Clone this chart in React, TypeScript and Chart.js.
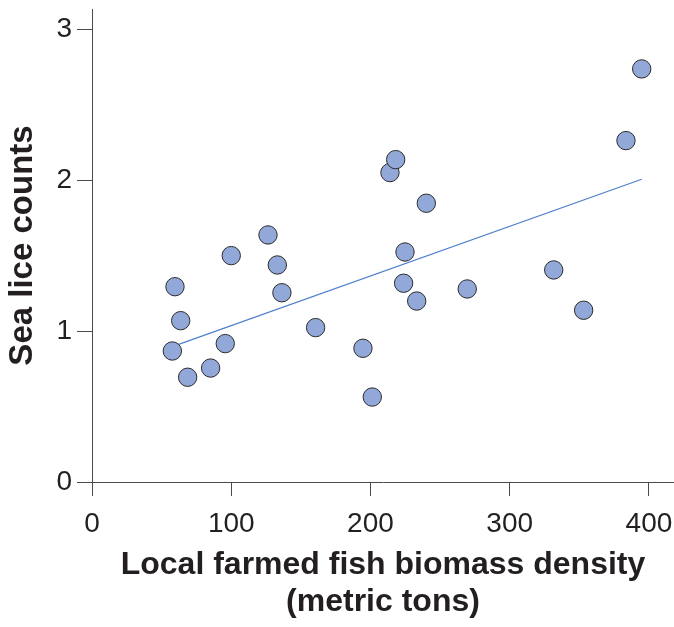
import React, { useEffect, useRef } from "react";
import { Chart, registerables } from "chart.js";
Chart.register(...registerables);

// Local farmed fish biomass density (metric tons)
const biomass = [57.7, 59.6, 63.7, 68.7, 85.2, 95.7, 100.0, 126.4, 133.1, 136.4, 160.6, 194.6, 201.3, 214.0, 218.1, 223.8, 224.8, 233.2, 240.1, 269.5, 331.6, 353.1, 383.5, 394.8];
// Sea lice counts
const liceCounts = [0.868, 1.294, 1.069, 0.694, 0.755, 0.917, 1.5, 1.637, 1.438, 1.254, 1.023, 0.886, 0.563, 2.05, 2.136, 1.317, 1.524, 1.199, 1.847, 1.279, 1.405, 1.138, 2.262, 2.737];
// Trend line end points
const trendX = [57.7, 394.8];
const trendY = [0.897, 2.006];

const xTicks = [0, 100, 200, 300, 400];
const yTicks = [0, 1, 2, 3];
const xTitle = ["Local farmed fish biomass density", "(metric tons)"];
const yTitle = "Sea lice counts";

const FONT = "'Liberation Sans', Arial, Helvetica, sans-serif";
const TEXT = "#231f20";
const AXIS = "#4a4a4a";

export default function App() {
  const ref = useRef<HTMLCanvasElement | null>(null);
  useEffect(() => {
    const canvas = ref.current;
    if (!canvas) return;
    const chart = new Chart(canvas, {
      type: "scatter",
      data: {
        datasets: [
          {
            label: "points",
            data: biomass.map((x, i) => ({ x, y: liceCounts[i] })),
            pointRadius: 9.2,
            pointHoverRadius: 9.2,
            backgroundColor: "#91a8d8",
            borderColor: "#2b2b2b",
            borderWidth: 1,
          },
          {
            label: "trend",
            type: "line",
            data: trendX.map((x, i) => ({ x, y: trendY[i] })),
            showLine: true,
            borderColor: "#4f7fcc",
            borderWidth: 1.2,
            pointRadius: 0,
            fill: false,
          } as any,
        ],
      },
      options: {
        responsive: false,
        animation: false,
        devicePixelRatio: 1,
        layout: { autoPadding: false, padding: { top: 9, right: 0, bottom: 0, left: 0 } },
        plugins: { legend: { display: false }, tooltip: { enabled: false } },
        scales: {
          x: {
            type: "linear",
            min: 0,
            max: 418,
            afterBuildTicks: (s: any) => {
              s.ticks = xTicks.map((v) => ({ value: v }));
            },
            afterFit: (s: any) => {
              s.height = 145;
              s.paddingLeft = 0;
              s.paddingRight = 0;
            },
            grid: {
              drawOnChartArea: false,
              drawTicks: true,
              tickLength: 14,
              tickColor: AXIS,
              lineWidth: 1,
            },
            border: { display: true, color: AXIS, width: 1 },
            ticks: {
              padding: 11.5,
              maxRotation: 0,
              autoSkip: false,
              color: TEXT,
              font: { family: FONT, size: 28 },
            },
            title: {
              display: true,
              text: xTitle,
              color: TEXT,
              font: { family: FONT, size: 32, weight: "bold", lineHeight: 37 / 32 },
              padding: { top: 0, bottom: 6 },
            },
          },
          y: {
            type: "linear",
            min: 0,
            max: 3.134,
            afterBuildTicks: (s: any) => {
              s.ticks = yTicks.map((v) => ({ value: v }));
            },
            afterFit: (s: any) => {
              s.width = 92;
              s.paddingTop = 0;
              s.paddingBottom = 0;
            },
            grid: {
              drawOnChartArea: false,
              drawTicks: true,
              tickLength: 15,
              tickColor: AXIS,
              lineWidth: 1,
            },
            border: { display: true, color: AXIS, width: 1 },
            ticks: {
              padding: 5,
              autoSkip: false,
              color: TEXT,
              font: { family: FONT, size: 28 },
            },
            title: {
              display: true,
              text: yTitle,
              color: TEXT,
              font: { family: FONT, size: 33, weight: "bold", lineHeight: 37 / 33 },
              padding: { top: 4.4, bottom: 0 },
            },
          },
        },
      },
    });
    return () => chart.destroy();
  }, []);
  return (
    <div style={{ position: "absolute", left: 0, top: 0, width: 674, height: 627, background: "#fff" }}>
      <canvas ref={ref} width={674} height={627} style={{ display: "block", width: 674, height: 627 }} />
    </div>
  );
}
